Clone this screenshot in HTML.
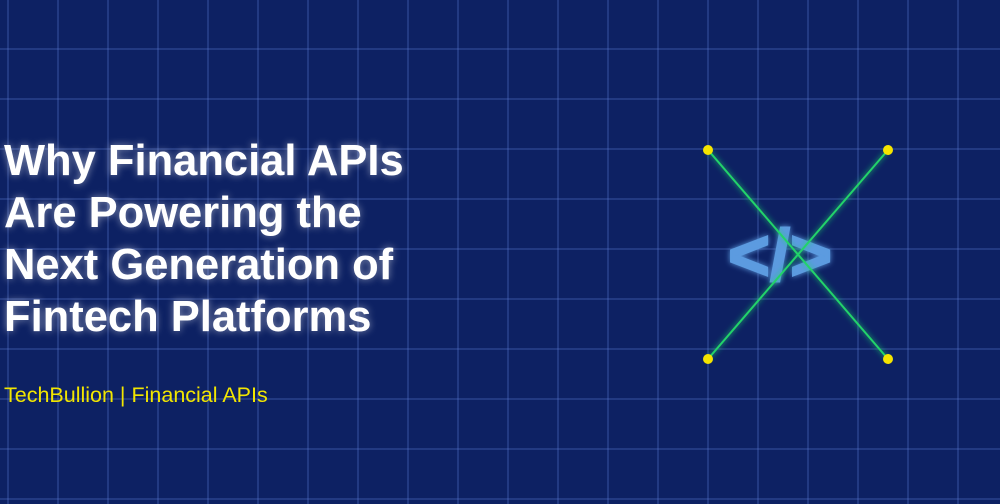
<!DOCTYPE html>
<html><head><style>
html,body{margin:0;padding:0}
body{width:1000px;height:504px;overflow:hidden;position:relative;font-family:"Liberation Sans",sans-serif;
background-color:#0d2163;
background-image:linear-gradient(to right,rgba(90,120,210,0.28) 2px,transparent 2px),linear-gradient(to bottom,rgba(90,120,210,0.28) 2px,transparent 2px);
background-size:50px 50px;background-position:7px 48px;}
.t{position:absolute;left:4px;top:135px;color:#fff;font-weight:bold;font-size:43.5px;line-height:52px;text-shadow:0 0 8px rgba(255,255,255,0.5)}
.s{position:absolute;left:4px;top:383px;color:#f2e600;font-size:21.5px}
</style></head><body>
<div class="t">Why Financial APIs<br>Are Powering the<br>Next Generation of<br>Fintech Platforms</div>
<div class="s">TechBullion | Financial APIs</div>
<svg width="1000" height="504" style="position:absolute;left:0;top:0">
<defs><filter id="g"><feGaussianBlur stdDeviation="3" result="b"/><feMerge><feMergeNode in="b"/><feMergeNode in="SourceGraphic"/></feMerge></filter></defs>
<text x="780" y="280" text-anchor="middle" font-family="Liberation Sans" font-weight="bold" font-size="72" fill="#5b9be0" stroke="#5b9be0" stroke-width="2" filter="url(#g)">&lt;/&gt;</text>
<g stroke="#22d36a" stroke-width="2" filter="url(#g)">
<line x1="708" y1="150" x2="888" y2="359"/><line x1="888" y1="150" x2="708" y2="359"/></g>
<g fill="#f5e400"><circle cx="708" cy="150" r="5"/><circle cx="888" cy="150" r="5"/><circle cx="708" cy="359" r="5"/><circle cx="888" cy="359" r="5"/></g>
</svg>
</body></html>
